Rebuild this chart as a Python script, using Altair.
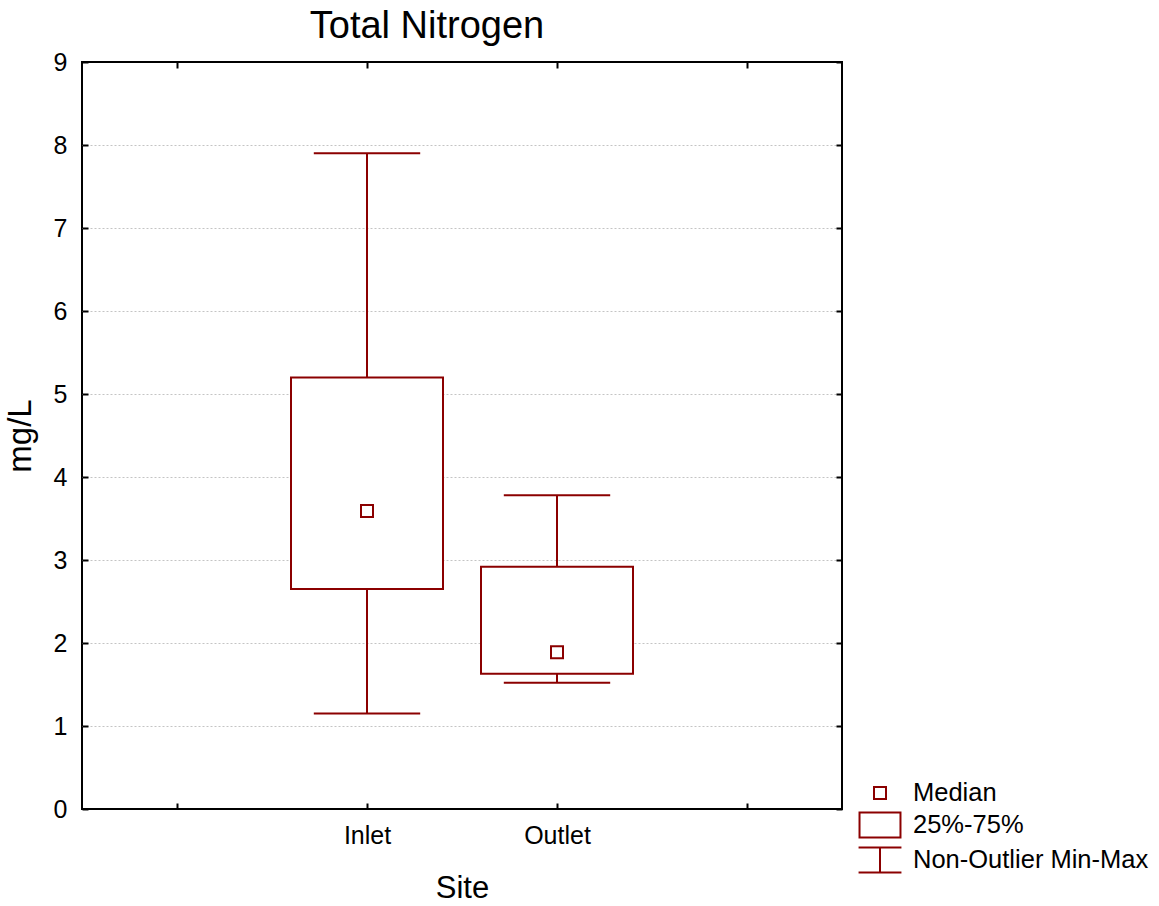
import altair as alt
import pandas as pd

# Box-plot summary of total nitrogen (mg/L) per sampling site
sites = ["Inlet", "Outlet"]
minimum = [1.15, 1.52]
q1 = [2.65, 1.63]
median = [3.59, 1.89]
q3 = [5.20, 2.92]
maximum = [7.90, 3.78]

y_ticks = [0, 1, 2, 3, 4, 5, 6, 7, 8, 9]
x_ticks = [0, 1, 2, 3]
legend_items = ["Median", "25%-75%", "Non-Outlier Min-Max"]

RED = "#8B0000"
FONT = "Liberation Sans"
BOX_HALF = 0.4
CAP_HALF = 0.28

df = pd.DataFrame({
    "site": sites,
    "pos": list(range(1, len(sites) + 1)),
    "min": minimum,
    "q1": q1,
    "median": median,
    "q3": q3,
    "max": maximum,
    "item": "Median",
})

# legend glyphs (unit coordinates, scaled by the symbol size)
legend_shapes = [
    "M-0.375,-0.375H0.375V0.375H-0.375Z",
    "M-1.28,-0.78H1.28V0.78H-1.28Z",
    "M-1.34,-0.78H1.34M0,-0.78V0.78M-1.34,0.78H1.34",
]

x_scale = alt.Scale(domain=[-0.5, 3.5], nice=False, zero=False)
y_scale = alt.Scale(domain=[0, 9], nice=False, zero=False)

label_expr = " : ".join(
    f"datum.value == {i + 1} ? '{s}'" for i, s in enumerate(sites)
) + " : ''"

tick_style = dict(tickColor="black", tickWidth=2, tickSize=6, offset=-6,
                  domain=False, grid=False)

x_bottom = alt.Axis(orient="bottom", values=x_ticks, labelExpr=label_expr,
                    labelFont=FONT, labelFontSize=25, labelColor="black",
                    labelPadding=14, labelOverlap=False, labelFlush=False,
                    title="Site", titleFont=FONT, titleFontSize=31,
                    titleFontWeight="normal", titleColor="black",
                    titlePadding=25, **tick_style)
y_left = alt.Axis(orient="left", values=y_ticks, format="d",
                  labelFont=FONT, labelFontSize=25, labelColor="black",
                  labelPadding=15, labelFlush=False,
                  title="mg/L", titleFont=FONT, titleFontSize=33,
                  titleFontWeight="normal", titleColor="black",
                  titlePadding=16, **tick_style)
x_top = alt.Axis(orient="top", values=x_ticks, labels=False, title=None,
                 **tick_style)
y_right = alt.Axis(orient="right", values=y_ticks, labels=False, title=None,
                   **tick_style)
y_grid = alt.Axis(orient="left", values=y_ticks[1:-1], grid=True,
                  gridColor="#c4c4c4", gridDash=[2, 2], gridWidth=1,
                  ticks=False, labels=False, domain=False, title=None)

base = alt.Chart(df).transform_calculate(
    box_lo=f"datum.pos - {BOX_HALF}",
    box_hi=f"datum.pos + {BOX_HALF}",
    cap_lo=f"datum.pos - {CAP_HALF}",
    cap_hi=f"datum.pos + {CAP_HALF}",
)

whisker = base.mark_rule(color=RED, strokeWidth=2).encode(
    x=alt.X("pos:Q", scale=x_scale, axis=x_bottom),
    y=alt.Y("min:Q", scale=y_scale, axis=y_left),
    y2="max:Q",
)

box = base.mark_rect(fill="white", stroke=RED, strokeWidth=2).encode(
    x=alt.X("box_lo:Q", scale=x_scale, axis=x_top),
    x2="box_hi:Q",
    y=alt.Y("q1:Q", scale=y_scale, axis=y_right),
    y2="q3:Q",
)

cap_min = base.mark_rule(color=RED, strokeWidth=2).encode(
    x=alt.X("cap_lo:Q", scale=x_scale, axis=None),
    x2="cap_hi:Q",
    y=alt.Y("min:Q", scale=y_scale, axis=y_grid),
)

cap_max = base.mark_rule(color=RED, strokeWidth=2).encode(
    x=alt.X("cap_lo:Q", scale=x_scale, axis=None),
    x2="cap_hi:Q",
    y=alt.Y("max:Q", scale=y_scale, axis=None),
)

med = base.mark_point(filled=False, color=RED, strokeWidth=2, size=1024,
                      opacity=1).encode(
    x=alt.X("pos:Q", scale=x_scale, axis=None),
    y=alt.Y("median:Q", scale=y_scale, axis=None),
    shape=alt.Shape(
        "item:N",
        scale=alt.Scale(domain=legend_items, range=legend_shapes),
        legend=alt.Legend(
            orient="none", legendX=781, legendY=714, title=None,
            labelFont=FONT, labelFontSize=25.5, labelColor="black",
            labelLimit=400, labelOffset=16, rowPadding=1, padding=0,
            symbolSize=1024, symbolStrokeWidth=2, symbolStrokeColor=RED,
            symbolFillColor="transparent",
        ),
    ),
)

chart = alt.layer(whisker, box, cap_min, cap_max, med).resolve_axis(
    x="independent", y="independent"
).properties(
    width=760,
    height=747,
    title=alt.TitleParams("Total Nitrogen", font=FONT, fontSize=38,
                          fontWeight="normal", color="black", anchor="middle",
                          frame="group", dx=-35, dy=51, offset=17,
                          baseline="bottom"),
    autosize=alt.AutoSizeParams(type="none"),
    padding={"left": 82, "top": 62, "right": 317, "bottom": 97},
).configure(
    background="white",
    view=alt.ViewConfig(stroke="black", strokeWidth=2),
)

chart.save("out.html", embed_options={"renderer": "svg", "actions": False})
